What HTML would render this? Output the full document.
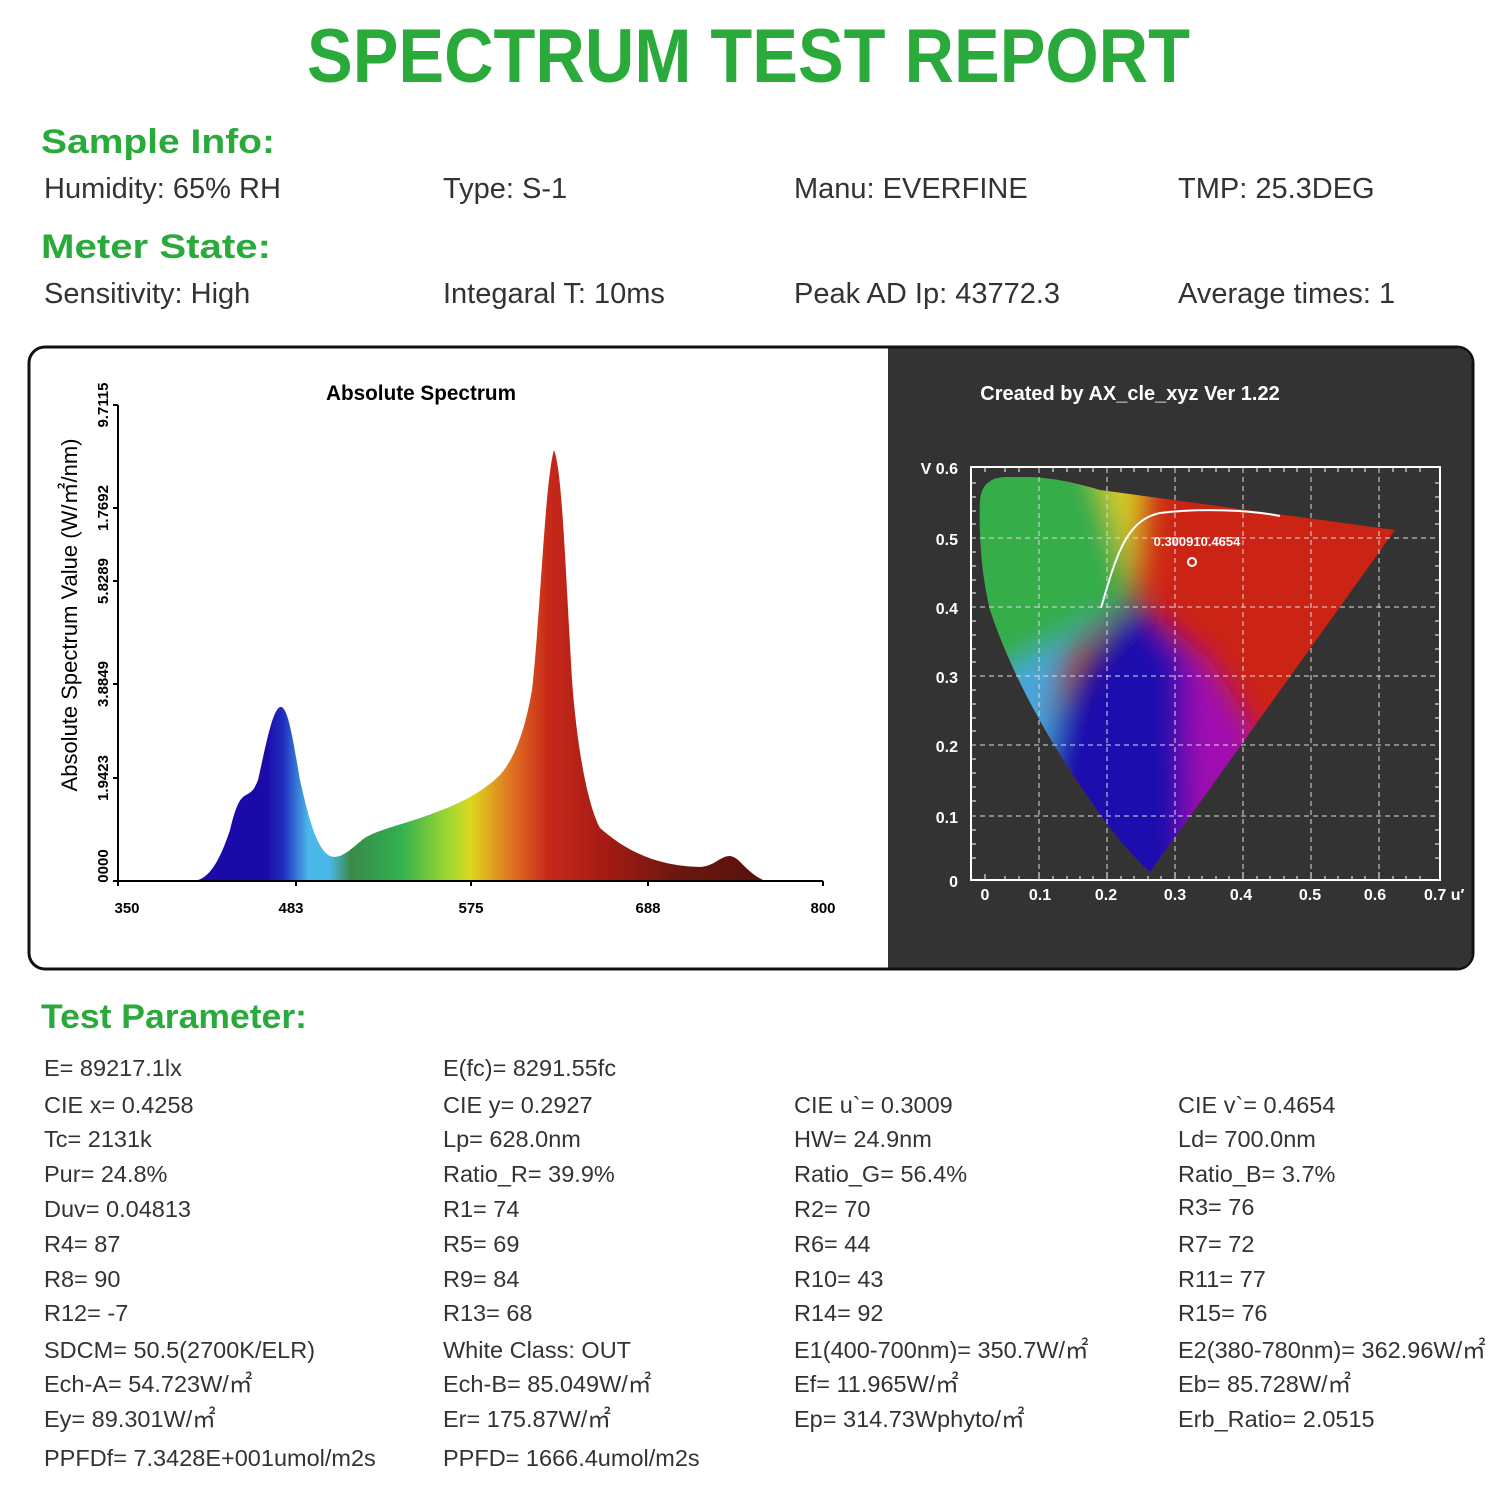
<!DOCTYPE html>
<html><head><meta charset="utf-8"><style>
html,body{margin:0;padding:0;background:#fff;}
svg{display:block;}
text{font-family:"Liberation Sans","Noto Sans CJK SC",sans-serif;}
</style></head><body>
<svg width="1500" height="1500" viewBox="0 0 1500 1500" xmlns="http://www.w3.org/2000/svg">
<defs>
<linearGradient id="spec" x1="118" y1="0" x2="823" y2="0" gradientUnits="userSpaceOnUse">
<stop offset="0" stop-color="#1a0aa8"/>
<stop offset="0.21" stop-color="#1a0aa8"/>
<stop offset="0.235" stop-color="#2030c0"/>
<stop offset="0.27" stop-color="#4ab8e8"/>
<stop offset="0.30" stop-color="#4ab8e8"/>
<stop offset="0.33" stop-color="#3a8a48"/>
<stop offset="0.40" stop-color="#30b050"/>
<stop offset="0.47" stop-color="#a0d830"/>
<stop offset="0.50" stop-color="#dcd820"/>
<stop offset="0.56" stop-color="#e07020"/>
<stop offset="0.61" stop-color="#c8281a"/>
<stop offset="0.70" stop-color="#a01a14"/>
<stop offset="0.80" stop-color="#6a1610"/>
<stop offset="1" stop-color="#4a0e08"/>
</linearGradient>
<clipPath id="hs"><path d="M980,500 Q982,478 1005,477 L1030,477 Q1060,478 1100,490 L1395,530 L1150,872 Q1120,845 1090,800 Q1020,700 990,610 Q978,560 980,500 Z"/></clipPath>
<filter id="bl" x="-50%" y="-50%" width="200%" height="200%"><feGaussianBlur stdDeviation="14"/></filter>
</defs>

<text x="307" y="82" font-size="76" font-weight="bold" fill="#2aaa3a" textLength="883" lengthAdjust="spacingAndGlyphs">SPECTRUM TEST REPORT</text>

<g fill="#2aaa3a" font-weight="bold" font-size="34">
<text x="41" y="153" textLength="234" lengthAdjust="spacingAndGlyphs">Sample Info:</text>
<text x="41" y="258" textLength="230" lengthAdjust="spacingAndGlyphs">Meter State:</text>
<text x="41" y="1028" textLength="266" lengthAdjust="spacingAndGlyphs">Test Parameter:</text>
</g>
<g fill="#333" font-size="29">
<text x="44" y="198">Humidity: 65% RH</text><text x="443" y="198">Type: S-1</text><text x="794" y="198">Manu: EVERFINE</text><text x="1178" y="198">TMP: 25.3DEG</text>
<text x="44" y="303">Sensitivity: High</text><text x="443" y="303">Integaral T: 10ms</text><text x="794" y="303">Peak AD Ip: 43772.3</text><text x="1178" y="303">Average times: 1</text>
</g>

<rect x="29" y="347" width="1444" height="622" rx="16" fill="#fff" stroke="#111" stroke-width="3"/>
<path d="M888,348.5 L1457,348.5 Q1471.5,348.5 1471.5,363 L1471.5,953 Q1471.5,967.5 1457,967.5 L888,967.5 Z" fill="#333"/>

<!-- spectrum -->
<text x="421" y="400" font-size="21" font-weight="bold" text-anchor="middle" fill="#000" textLength="190" lengthAdjust="spacingAndGlyphs">Absolute Spectrum</text>
<path d="M195,881 C210,878 220,860 230,830 C236,805 240,798 246,795 C252,792 254,790 258,780 C265,750 272,710 280,707 C288,705 293,740 300,780 C310,825 318,850 330,856 C340,860 350,850 362,840 C372,832 390,828 420,818 C450,808 480,795 500,775 C515,758 525,730 532,690 C540,620 545,480 554,450 C562,470 565,560 572,680 C578,760 590,810 600,828 C625,850 655,866 700,867 C715,866 720,856 730,856 C740,857 745,872 765,881 Z" fill="url(#spec)"/>
<g stroke="#000" stroke-width="2" fill="none">
<path d="M118,405 L118,881 L823,881"/>
<path d="M113,405h5M113,508h5M113,581h5M113,684h5M113,778h5M113,881h5"/>
<path d="M296,881v5M471,881v5M648,881v5M823,881v5M118,881v5"/>
</g>
<g font-size="15" font-weight="bold" fill="#000" text-anchor="middle">
<text x="127" y="913">350</text><text x="291" y="913">483</text><text x="471" y="913">575</text><text x="648" y="913">688</text><text x="823" y="913">800</text>
<text transform="translate(108,866) rotate(-90)">0000</text>
<text transform="translate(108,778) rotate(-90)">1.9423</text>
<text transform="translate(108,684) rotate(-90)">3.8849</text>
<text transform="translate(108,581) rotate(-90)">5.8289</text>
<text transform="translate(108,508) rotate(-90)">1.7692</text>
<text transform="translate(108,405) rotate(-90)">9.7115</text>
</g>
<text transform="translate(77,615) rotate(-90)" font-size="22" fill="#000" text-anchor="middle">Absolute Spectrum Value (W/㎡/nm)</text>

<!-- CIE -->
<text x="1130" y="400" font-size="20" font-weight="bold" fill="#fff" text-anchor="middle">Created by AX_cle_xyz Ver 1.22</text>
<g clip-path="url(#hs)">
<rect x="960" y="460" width="450" height="420" fill="#cc2414"/>
<g filter="url(#bl)">
<polygon points="1135,598 1035,690 940,700 940,440 1090,440 1125,560" fill="#36ad4a"/>
<polygon points="1135,590 1090,450 1150,450 1140,580" fill="#d8cc22"/>
<polygon points="1135,600 1210,660 1260,740 1230,900 1170,900" fill="#a010b0"/>
<polygon points="1135,600 1185,660 1190,900 1060,900 1045,740 1090,660" fill="#1c08ae"/>
<polygon points="1125,605 1070,650 1040,790 990,760 990,680" fill="#48a6da"/>
</g>
</g>
<g stroke="#ddd" stroke-width="1" stroke-dasharray="5,4" fill="none">
<path d="M1039,468V880M1107,468V880M1175,468V880M1243,468V880M1311,468V880M1379,468V880"/>
<path d="M971,538H1440M971,607H1440M971,676H1440M971,745H1440M971,816H1440"/>
</g>
<rect x="971" y="467" width="469" height="413" fill="none" stroke="#fff" stroke-width="2"/>
<g stroke="#fff" stroke-width="1">
<path d="M985,880v-6M1039,880v-8M1107,880v-8M1175,880v-8M1243,880v-8M1311,880v-8M1379,880v-8M1005,880v-4M1019,880v-4M1053,880v-4M1067,880v-4M1080,880v-4M1093,880v-4M1121,880v-4M1134,880v-4M1148,880v-4M1161,880v-4M1189,880v-4M1202,880v-4M1216,880v-4M1229,880v-4M1257,880v-4M1270,880v-4M1284,880v-4M1297,880v-4M1325,880v-4M1338,880v-4M1352,880v-4M1365,880v-4M1393,880v-4M1406,880v-4M1420,880v-4"/>
<path d="M971,483h5M971,497h5M971,511h5M971,524h5M971,552h5M971,566h5M971,580h5M971,593h5M971,621h5M971,635h5M971,649h5M971,662h5M971,690h5M971,704h5M971,718h5M971,731h5M971,759h5M971,773h5M971,787h5M971,801h5M971,830h5M971,844h5M971,858h5M1440,483h-5M1440,497h-5M1440,511h-5M1440,524h-5M1440,552h-5M1440,566h-5M1440,580h-5M1440,593h-5M1440,621h-5M1440,635h-5M1440,649h-5M1440,662h-5M1440,690h-5M1440,704h-5M1440,718h-5M1440,731h-5M1440,759h-5M1440,773h-5M1440,787h-5M1440,801h-5M1440,830h-5M1440,844h-5M1440,858h-5"/>
<path d="M985,467v5M1005,467v5M1019,467v5M1053,467v5M1067,467v5M1080,467v5M1093,467v5M1121,467v5M1134,467v5M1148,467v5M1161,467v5M1189,467v5M1202,467v5M1216,467v5M1229,467v5M1257,467v5M1270,467v5M1284,467v5M1297,467v5M1325,467v5M1338,467v5M1352,467v5M1365,467v5M1393,467v5M1406,467v5M1420,467v5"/>
</g>
<path d="M1101,608 C1115,560 1125,520 1160,513 C1200,508 1250,510 1280,516" stroke="#fff" stroke-width="2" fill="none"/>
<circle cx="1192" cy="562" r="4" fill="none" stroke="#fff" stroke-width="2"/>
<text x="1197" y="546" font-size="13" font-weight="bold" fill="#fff" text-anchor="middle">0.300910.4654</text>
<g font-size="16" font-weight="bold" fill="#fff">
<g text-anchor="end">
<text x="958" y="474">V 0.6</text><text x="958" y="545">0.5</text><text x="958" y="614">0.4</text><text x="958" y="683">0.3</text><text x="958" y="752">0.2</text><text x="958" y="823">0.1</text><text x="958" y="887">0</text>
</g>
<g text-anchor="middle">
<text x="985" y="900">0</text><text x="1040" y="900">0.1</text><text x="1106" y="900">0.2</text><text x="1175" y="900">0.3</text><text x="1241" y="900">0.4</text><text x="1310" y="900">0.5</text><text x="1375" y="900">0.6</text>
</g>
<text x="1424" y="900">0.7 u′</text>
</g>

<!-- params -->
<g fill="#333" font-size="23.5">
<text x="44" y="1076">E= 89217.1lx</text><text x="443" y="1076">E(fc)= 8291.55fc</text>
<text x="44" y="1113">CIE x= 0.4258</text><text x="443" y="1113">CIE y= 0.2927</text><text x="794" y="1113">CIE u`= 0.3009</text><text x="1178" y="1113">CIE v`= 0.4654</text>
<text x="44" y="1147">Tc= 2131k</text><text x="443" y="1147">Lp= 628.0nm</text><text x="794" y="1147">HW= 24.9nm</text><text x="1178" y="1147">Ld= 700.0nm</text>
<text x="44" y="1182">Pur= 24.8%</text><text x="443" y="1182">Ratio_R= 39.9%</text><text x="794" y="1182">Ratio_G= 56.4%</text><text x="1178" y="1182">Ratio_B= 3.7%</text>
<text x="44" y="1217">Duv= 0.04813</text><text x="443" y="1217">R1= 74</text><text x="794" y="1217">R2= 70</text><text x="1178" y="1215">R3= 76</text>
<text x="44" y="1252">R4= 87</text><text x="443" y="1252">R5= 69</text><text x="794" y="1252">R6= 44</text><text x="1178" y="1252">R7= 72</text>
<text x="44" y="1287">R8= 90</text><text x="443" y="1287">R9= 84</text><text x="794" y="1287">R10= 43</text><text x="1178" y="1287">R11= 77</text>
<text x="44" y="1321">R12= -7</text><text x="443" y="1321">R13= 68</text><text x="794" y="1321">R14= 92</text><text x="1178" y="1321">R15= 76</text>
<text x="44" y="1358">SDCM= 50.5(2700K/ELR)</text><text x="443" y="1358">White Class: OUT</text><text x="794" y="1358">E1(400-700nm)= 350.7W/㎡</text><text x="1178" y="1358">E2(380-780nm)= 362.96W/㎡</text>
<text x="44" y="1392">Ech-A= 54.723W/㎡</text><text x="443" y="1392">Ech-B= 85.049W/㎡</text><text x="794" y="1392">Ef= 11.965W/㎡</text><text x="1178" y="1392">Eb= 85.728W/㎡</text>
<text x="44" y="1427">Ey= 89.301W/㎡</text><text x="443" y="1427">Er= 175.87W/㎡</text><text x="794" y="1427">Ep= 314.73Wphyto/㎡</text><text x="1178" y="1427">Erb_Ratio= 2.0515</text>
<text x="44" y="1466">PPFDf= 7.3428E+001umol/m2s</text><text x="443" y="1466">PPFD= 1666.4umol/m2s</text>
</g>
</svg>
</body></html>
